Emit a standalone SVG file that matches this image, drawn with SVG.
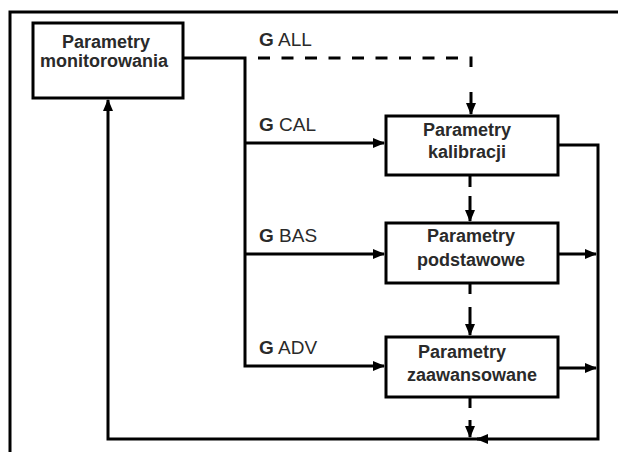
<svg xmlns="http://www.w3.org/2000/svg" width="618" height="452" viewBox="0 0 618 452">
<style>
.box{fill:#fff;stroke:#000;stroke-width:3}
.ln{fill:none;stroke:#000;stroke-width:3}
.dash{fill:none;stroke:#000;stroke-width:3;stroke-dasharray:12 11.5}
.t{font-family:"Liberation Sans",Arial,sans-serif;font-size:18px;font-weight:bold;fill:#2a2a2a;text-anchor:middle}
.lb{font-family:"Liberation Sans",Arial,sans-serif;font-size:19px;fill:#2a2a2a}
.lb tspan.g{font-weight:bold}
</style>
<defs>
<marker id="ah" markerUnits="userSpaceOnUse" markerWidth="13" markerHeight="11" refX="11" refY="5.5" orient="auto">
<path d="M0,0.5 L12,5.5 L0,10.5 z" fill="#000"/>
</marker>
</defs>
<g id="frame"><path class="ln" d="M10,452 V12 H618"/></g>
<g id="connectors">
<path class="ln" d="M183,58 H245 V366 H384" marker-end="url(#ah)"/>
<path class="ln" d="M245,143 H384" marker-end="url(#ah)"/>
<path class="ln" d="M245,254 H384" marker-end="url(#ah)"/>
<path class="dash" d="M258,58 H471 V67"/>
<path class="ln" d="M471,92 V114" marker-end="url(#ah)"/>
<path class="ln" d="M470,175 V187"/>
<path class="ln" d="M470,196 V221" marker-end="url(#ah)"/>
<path class="ln" d="M470,283 V294"/>
<path class="ln" d="M470,307 V335" marker-end="url(#ah)"/>
<path class="ln" d="M470,397 V408"/>
<path class="ln" d="M470,420 V437" marker-end="url(#ah)"/>
<path class="ln" d="M558,145 H598 V439 H477" marker-end="url(#ah)"/>
<path class="ln" d="M480,439 H108 V100" marker-end="url(#ah)"/>
<path class="ln" d="M558,254 H596" marker-end="url(#ah)"/>
<path class="ln" d="M558,368 H596" marker-end="url(#ah)"/>
<text class="lb" x="259" y="46"><tspan class="g">G</tspan> ALL</text>
<text class="lb" x="259" y="131"><tspan class="g">G</tspan> CAL</text>
<text class="lb" x="259" y="242"><tspan class="g">G</tspan> BAS</text>
<text class="lb" x="259" y="354"><tspan class="g">G</tspan> ADV</text>
</g>
<g id="monitorowania">
<rect class="box" x="33" y="23" width="150" height="75"/>
<text class="t" x="106" y="48">Parametry</text>
<text class="t" x="104" y="67">monitorowania</text>
</g>
<g id="kalibracji">
<rect class="box" x="386" y="116" width="172" height="59"/>
<text class="t" x="467" y="136">Parametry</text>
<text class="t" x="467" y="158">kalibracji</text>
</g>
<g id="podstawowe">
<rect class="box" x="386" y="223" width="172" height="60"/>
<text class="t" x="471" y="242">Parametry</text>
<text class="t" x="471" y="266">podstawowe</text>
</g>
<g id="zaawansowane">
<rect class="box" x="386" y="337" width="172" height="60"/>
<text class="t" x="462" y="358">Parametry</text>
<text class="t" x="472" y="381">zaawansowane</text>
</g>
</svg>
